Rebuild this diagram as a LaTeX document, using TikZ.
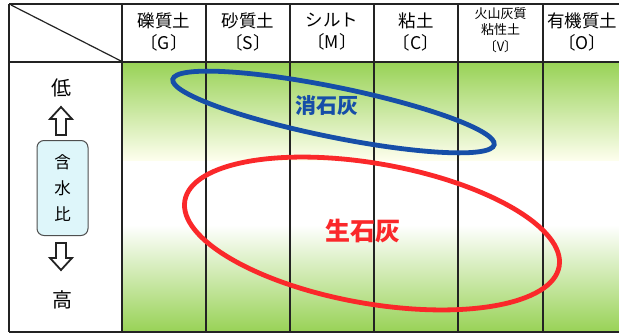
\documentclass[tikz,border=0pt]{standalone}
\usepackage{fontspec}
\newfontfamily\jp{Noto Sans CJK JP}
\definecolor{lgreen}{RGB}{152,210,86}
\definecolor{pale}{RGB}{255,255,240}
\definecolor{tblc}{RGB}{35,35,35}
\definecolor{bluel}{RGB}{22,78,168}
\definecolor{redl}{RGB}{250,40,42}
\definecolor{boxcyan}{RGB}{222,246,250}
\tikzset{
  tbl/.style={draw=tblc, line width=1.6pt},
  vline/.style={draw=tblc, line width=1.4pt},
  hd/.style={align=center, inner sep=0pt, font=\jp\fontsize{17.5}{22}\selectfont},
  hdsmall/.style={align=center, inner sep=0pt, font=\jp\fontsize{13}{16.5}\selectfont},
  side/.style={inner sep=0pt, font=\jp\fontsize{20}{22}\selectfont},
  harrow/.style={draw=tblc, line width=1.8pt, fill=white, line join=miter},
  wcbox/.style={draw=tblc!80, line width=1pt, rounded corners=7pt, fill=boxcyan,
    minimum width=51pt, minimum height=95pt, align=center, inner sep=0pt,
    font=\jp\fontsize{16.5}{26}\selectfont},
  ellb/.style={draw=bluel, line width=4.8pt},
  ellr/.style={draw=redl, line width=4.8pt},
}
\begin{document}
\begin{tikzpicture}[x=1pt,y=-1pt]
\useasboundingbox (0,0) rectangle (619,335);
\fill[white] (0,0) rectangle (619,335);
% gradient body
\shade[top color=lgreen, bottom color=pale] (122,62) rectangle (619,162);
\fill[white] (122,161) rectangle (619,226);
\shade[top color=white, bottom color=lgreen] (122,225) rectangle (619,332);
% table lines
\draw[tbl] (9,4) -- (619,4);
\draw[tbl, line width=2.4pt] (9,62) -- (619,62);
\draw[tbl] (9,332) -- (619,332);
\draw[tbl] (9,4) -- (9,332);
\draw[tbl, line width=1.2pt] (11,5) -- (121,61);
\foreach \x in {122,206,290,374,458,543} {
  \draw[tbl] (\x,4) -- (\x,62);
  \draw[vline] (\x,62) -- (\x,332);
}
% header labels
\node[hd] (hG) at (164,32) {礫質土\\〔G〕};
\node[hd] (hS) at (248,32) {砂質土\\〔S〕};
\node[hd] (hM) at (332,32) {シルト\\〔M〕};
\node[hd] (hC) at (416,32) {粘土\\〔C〕};
\node[hdsmall] (hV) at (500.5,30) {火山灰質\\粘性土\\〔V〕};
\node[hd] (hO) at (582,32) {有機質土\\〔O〕};
% left column
\node[side] (low) at (61,88) {低};
\draw[harrow] (61,107) -- (72,119) -- (66,119) -- (66,135) -- (56,135) -- (56,119) -- (50,119) -- cycle;
\node[wcbox] (wc) at (62.5,188) {含\\水\\比};
\draw[harrow] (56,243) -- (66,243) -- (66,258) -- (72,258) -- (61,270) -- (50,258) -- (56,258) -- cycle;
\node[side] (high) at (62,300) {高};
% ellipses
\draw[ellb] (333.5,112) ellipse [x radius=164, y radius=25, rotate=-11.5];
\draw[ellr] (372,233.5) ellipse [x radius=190, y radius=70, rotate=-10];
\node[inner sep=0pt, text=bluel, font=\jp\bfseries\fontsize{21}{21}\selectfont] (sl) at (327,106) {消石灰};
\node[inner sep=0pt, text=redl, font=\jp\bfseries\fontsize{25}{25}\selectfont] (ql) at (363,231) {生石灰};
\end{tikzpicture}
\end{document}
